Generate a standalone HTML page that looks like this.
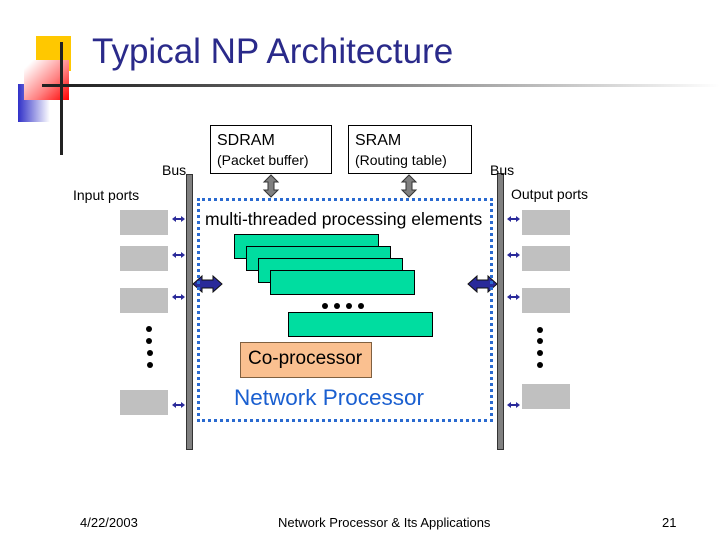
<!DOCTYPE html>
<html><head><style>
body{margin:0;width:720px;height:540px;background:#fff;position:relative;overflow:hidden;font-family:"Liberation Sans",sans-serif}
.a{position:absolute}
.t{position:absolute;white-space:nowrap}
.port{position:absolute;width:48px;height:25px;background:#c0c0c0}
.g{position:absolute;background:#00dda0;border:1px solid #000;box-sizing:border-box}
</style></head><body>
<div class="a" style="left:36px;top:36px;width:35px;height:35px;background:#ffc800"></div>
<div class="a" style="left:18px;top:84px;width:32px;height:38px;background:linear-gradient(90deg,#3030c8,#fff)"></div>
<div class="a" style="left:24px;top:60px;width:45px;height:40px;background:linear-gradient(135deg,#fff 10%,#ff8080 60%,#f00)"></div>
<div class="a" style="left:42px;top:84px;width:200px;height:3px;background:#222"></div>
<div class="a" style="left:60px;top:42px;width:3px;height:113px;background:#222"></div>
<div class="a" style="left:70px;top:84px;width:650px;height:3px;background:linear-gradient(90deg,#222,#888 50%,#fff)"></div>
<div class="t" style="left:92px;top:32px;font-size:35px;color:#2a2a8a">Typical NP Architecture</div>

<div class="a" style="left:210px;top:125px;width:122px;height:49px;border:1px solid #000;box-sizing:border-box"></div>
<div class="t" style="left:217px;top:132px;font-size:16px">SDRAM</div>
<div class="t" style="left:217px;top:152px;font-size:14px">(Packet buffer)</div>
<div class="a" style="left:348px;top:125px;width:124px;height:49px;border:1px solid #000;box-sizing:border-box"></div>
<div class="t" style="left:355px;top:132px;font-size:16px">SRAM</div>
<div class="t" style="left:355px;top:152px;font-size:14px">(Routing table)</div>

<svg class="a" style="left:0;top:0" width="720" height="540">
<g fill="#808080" stroke="#333" stroke-width="1">
<polygon points="271,175 278,182 274,182 274,190 278,190 271,197 264,190 268,190 268,182 264,182"/>
<polygon points="409,175 416,182 412,182 412,190 416,190 409,197 402,190 406,190 406,182 402,182"/>
</g>
<g fill="#2a2a9a" stroke="#111" stroke-width="1">
<polygon points="193,284 202,276 202,280 213,280 213,276 222,284 213,292 213,288 202,288 202,292"/>
<polygon points="468,284 477,276 477,280 488,280 488,276 497,284 488,292 488,288 477,288 477,292"/>
</g>
<defs><path id="s" d="M0,0 L4,-3 L4,-1 L9,-1 L9,-3 L13,0 L9,3 L9,1 L4,1 L4,3z" fill="#2a2a9a"/></defs>
<use href="#s" x="172" y="219"/><use href="#s" x="172" y="255"/><use href="#s" x="172" y="297"/><use href="#s" x="172" y="405"/>
<use href="#s" x="507" y="219"/><use href="#s" x="507" y="255"/><use href="#s" x="507" y="297"/><use href="#s" x="507" y="405"/>
<g fill="#000">
<circle cx="149" cy="329" r="3"/><circle cx="149" cy="341" r="3"/><circle cx="150" cy="353" r="3"/><circle cx="150" cy="365" r="3"/>
<circle cx="540" cy="330" r="3"/><circle cx="540" cy="341" r="3"/><circle cx="540" cy="353" r="3"/><circle cx="540" cy="365" r="3"/>
<circle cx="325" cy="306" r="3"/><circle cx="337" cy="306" r="3"/><circle cx="349" cy="306" r="3"/><circle cx="361" cy="306" r="3"/>
</g>
</svg>

<div class="a" style="left:186px;top:174px;width:7px;height:276px;background:#808080;border:1px solid #333;box-sizing:border-box"></div>
<div class="a" style="left:497px;top:173px;width:7px;height:277px;background:#808080;border:1px solid #333;box-sizing:border-box"></div>
<div class="a" style="left:197px;top:198px;width:296px;height:224px;border:3px dotted #2a6ad0;box-sizing:border-box"></div>

<div class="t" style="left:162px;top:162px;font-size:14px">Bus</div>
<div class="t" style="left:490px;top:162px;font-size:14px">Bus</div>
<div class="t" style="left:73px;top:187px;font-size:14px">Input ports</div>
<div class="t" style="left:511px;top:186px;font-size:14px">Output ports</div>
<div class="t" style="left:205px;top:209px;font-size:17.5px">multi-threaded processing elements</div>

<div class="g" style="left:234px;top:234px;width:145px;height:25px"></div>
<div class="g" style="left:246px;top:246px;width:145px;height:25px"></div>
<div class="g" style="left:258px;top:258px;width:145px;height:25px"></div>
<div class="g" style="left:270px;top:270px;width:145px;height:25px"></div>
<div class="g" style="left:288px;top:312px;width:145px;height:25px"></div>
<div class="a" style="left:240px;top:342px;width:132px;height:36px;background:#fac090;border:1px solid #806040;box-sizing:border-box"></div>
<div class="t" style="left:248px;top:348px;font-size:19px">Co-processor</div>
<div class="t" style="left:234px;top:385px;font-size:22.5px;color:#1a5fd0">Network Processor</div>

<div class="port" style="left:120px;top:210px"></div>
<div class="port" style="left:120px;top:246px"></div>
<div class="port" style="left:120px;top:288px"></div>
<div class="port" style="left:120px;top:390px"></div>
<div class="port" style="left:522px;top:210px"></div>
<div class="port" style="left:522px;top:246px"></div>
<div class="port" style="left:522px;top:288px"></div>
<div class="port" style="left:522px;top:384px"></div>

<div class="t" style="left:80px;top:515px;font-size:13px">4/22/2003</div>
<div class="t" style="left:278px;top:515px;font-size:13px">Network Processor &amp; Its Applications</div>
<div class="t" style="left:662px;top:515px;font-size:13px">21</div>
</body></html>
